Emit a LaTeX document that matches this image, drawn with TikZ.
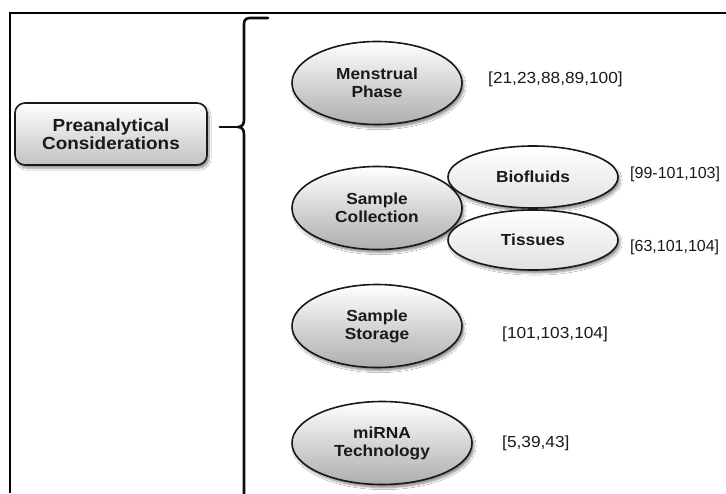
\documentclass[tikz,border=0pt]{standalone}
\usepackage{fontspec}
\setmainfont{Liberation Sans}[FakeStretch=1.08]
\newfontfamily\narrowrefs{Liberation Sans}
\usetikzlibrary{shapes.geometric,shadows.blur}

\tikzset{
  soft/.style={blur shadow={shadow xshift=2pt, shadow yshift=-3pt,
      shadow blur steps=6, shadow opacity=45}},
  headbox/.style={draw=black!90, line width=1.6pt, rounded corners=10pt,
      top color=white, bottom color=black!24, soft,
      minimum width=192pt, minimum height=62pt, align=center,
      font=\fontsize{17.5}{18.5}\selectfont\bfseries, text=black!90},
  grayoval/.style={ellipse, draw=black!90, line width=1.6pt,
      top color=white, bottom color=black!32, soft, inner sep=0pt,
      minimum width=170pt, minimum height=83pt, align=center,
      font=\fontsize{16}{18}\selectfont\bfseries, text=black!90},
  whiteoval/.style={ellipse, draw=black!90, line width=1.6pt,
      top color=white, bottom color=black!12, soft, inner sep=0pt,
      minimum width=170pt, minimum height=62pt, align=center,
      font=\fontsize{16}{18}\selectfont\bfseries, text=black!90},
  ref/.style={anchor=west, inner sep=0pt, text=black!90,
      font=\fontsize{16}{18}\selectfont},
  edgeref/.style={ref, font=\fontsize{16}{18}\narrowrefs},
  frameline/.style={line width=2pt, black},
  braceline/.style={line width=2.6pt, black!95, line cap=round, line join=round}
}

\begin{document}
\begin{tikzpicture}[x=1pt, y=-1pt]
  \clip (0,0) rectangle (726,493);
  \fill[white] (0,0) rectangle (726,493);

  % outer frame (top and left edges)
  \draw[frameline] (10,493) -- (10,13) -- (726,13);

  % heading box
  \node[headbox] (pre) at (111,134) {Preanalytical\\Considerations};

  % curly brace grouping the considerations
  \coordinate (tip) at (219,127);
  \draw[braceline] (268,18) -- (250,18)
      .. controls (246,18) and (244,20) .. (244,24) -- (244,120)
      .. controls (244,124) and (242,127) .. (238,127)
      .. controls (242,127) and (244,130) .. (244,134) -- (244,500);
  \draw[braceline] ([xshift=12pt]pre.east |- tip) -- (238,127);

  % considerations
  \node[grayoval] (mens) at (377,83) {Menstrual\\Phase};
  \node[grayoval] (coll) at (377,208) {Sample\\Collection};
  \node[whiteoval] (bio) at (533,177) {Biofluids};
  \node[whiteoval, minimum height=60pt] (tis) at (533,240) {Tissues};
  \node[grayoval] (stor) at (377,326) {Sample\\Storage};
  \node[grayoval, minimum width=180pt] (mirna) at (382,443) {miRNA\\Technology};

  % references
  \node[ref] (rmens) at (488,79) {[21,23,88,89,100]};
  \node[edgeref] (rbio) at (630,174) {[99-101,103]};
  \node[edgeref] (rtis) at (630,247) {[63,101,104]};
  \node[ref] (rstor) at (502,334) {[101,103,104]};
  \node[ref] (rmirna) at (502,443) {[5,39,43]};
\end{tikzpicture}
\end{document}
